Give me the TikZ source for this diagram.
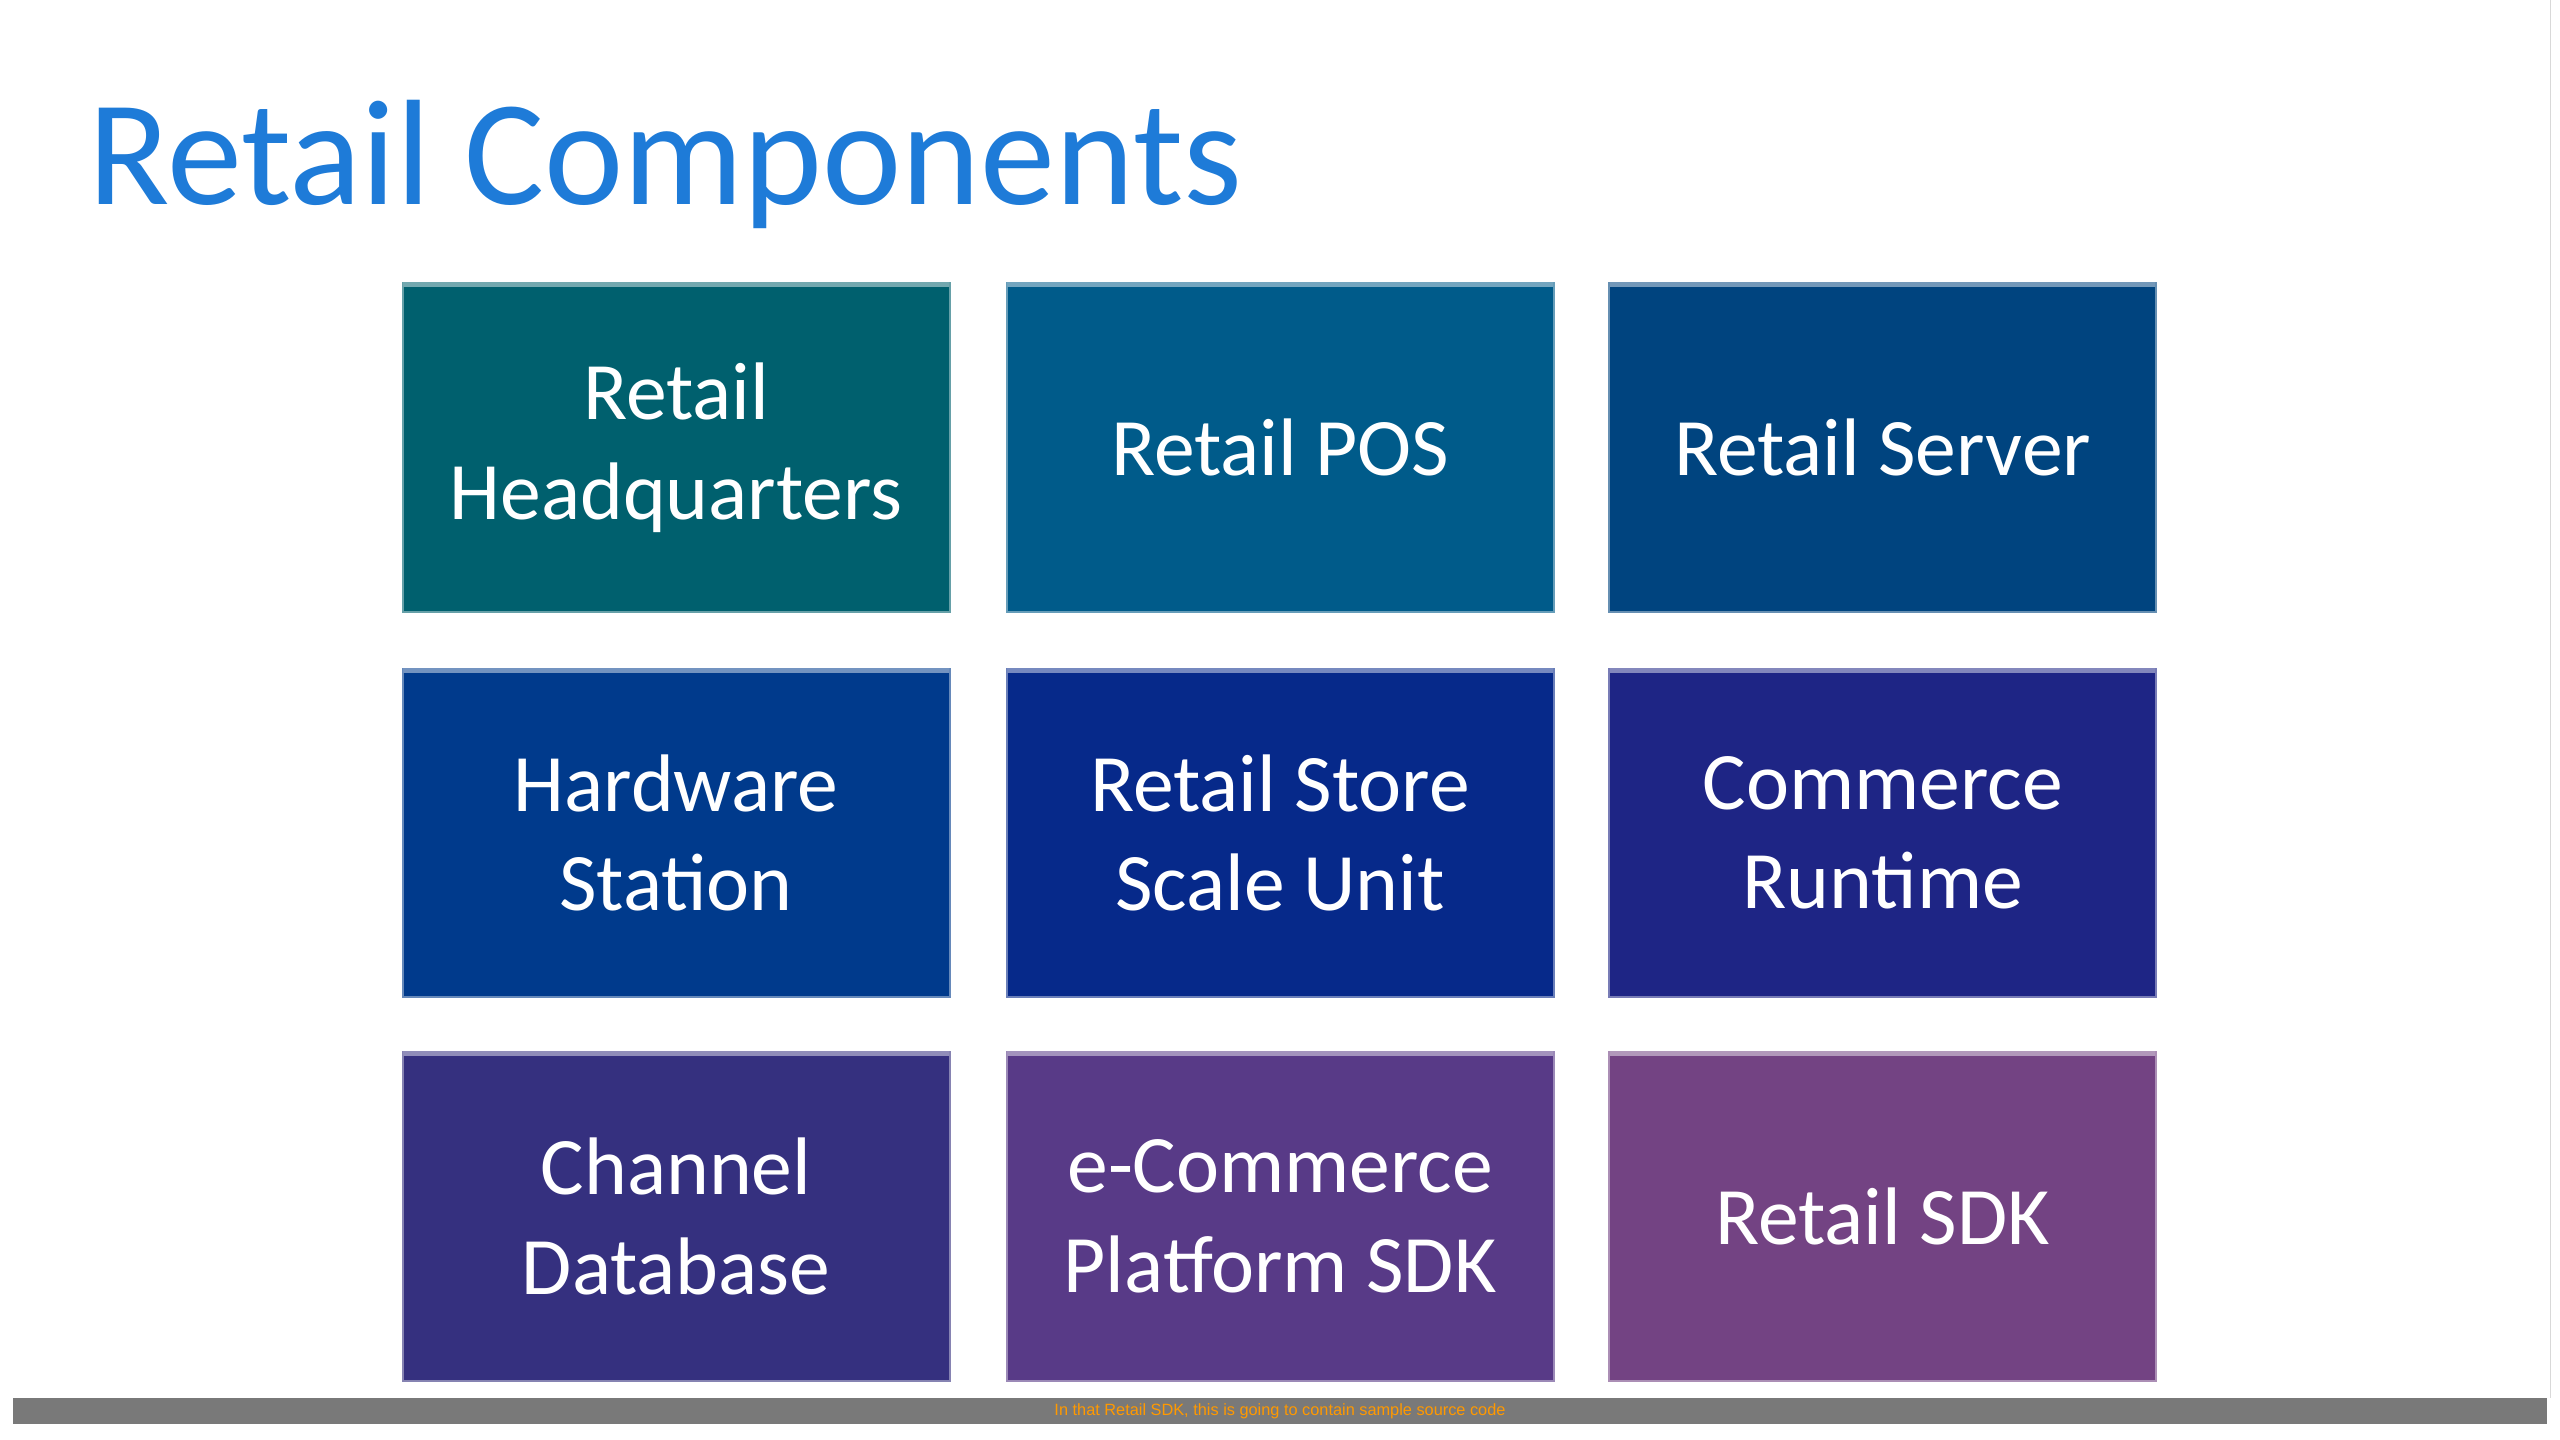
\documentclass[tikz,border=0pt]{standalone}
\usepackage{fontspec}
\setmainfont{Carlito}
\newfontfamily\hv{Liberation Sans}
\begin{document}
\begin{tikzpicture}[x=1pt,y=-1pt,
  box/.style={draw=#1!60!white,line width=1.2pt,fill=#1,minimum width=335pt,minimum height=201pt,anchor=north west,text=white,align=center,font=\fontsize{50}{61}\selectfont,inner sep=0pt},
  top/.style={line width=3pt,draw=#1!55!white}]
\useasboundingbox (0,0) rectangle (1568,882);
\fill[white] (0,0) rectangle (1568,882);
\node[anchor=base west,text=blue!55!cyan!80!black,font=\fontsize{92}{100}\selectfont,inner sep=0pt] (title) at (54,125) {\color[HTML]{1E7BD8}Retail Components};
\definecolor{c1}{HTML}{00606E}\definecolor{c2}{HTML}{005B8A}\definecolor{c3}{HTML}{00447F}
\definecolor{c4}{HTML}{003A8C}\definecolor{c5}{HTML}{06298A}\definecolor{c6}{HTML}{1E2585}
\definecolor{c7}{HTML}{35307F}\definecolor{c8}{HTML}{583A87}\definecolor{c9}{HTML}{734383}
\node[box=c1] (b1) at (246,173) {Retail\\Headquarters};
\node[box=c2] (b2) at (616,173) {Retail POS};
\node[box=c3] (b3) at (985,173) {Retail Server};
\node[box=c4] (b4) at (246,409) {Hardware\\Station};
\node[box=c5] (b5) at (616,409) {Retail Store\\Scale Unit};
\node[box=c6] (b6) at (985,409) {Commerce\\Runtime};
\node[box=c7] (b7) at (246,644) {Channel\\Database};
\node[box=c8] (b8) at (616,644) {e-Commerce\\Platform SDK};
\node[box=c9] (b9) at (985,644) {Retail SDK};
\foreach \b/\c in {b1/c1,b2/c2,b3/c3,b4/c4,b5/c5,b6/c6,b7/c7,b8/c8,b9/c9}{
  \draw[top=\c] ([xshift=1pt,yshift=-1.5pt]\b.north west) -- ([xshift=-1pt,yshift=-1.5pt]\b.north east);}
\fill[gray!60!black!75] (8,856) rectangle (1560,872);
\node[font=\hv\fontsize{10}{12}\selectfont,text=orange!80!yellow,inner sep=0pt] (cap) at (784,864.5) {In that Retail SDK, this is going to contain sample source code};
\draw[gray!30] (1562,0) -- (1562,856);
\end{tikzpicture}
\end{document}
